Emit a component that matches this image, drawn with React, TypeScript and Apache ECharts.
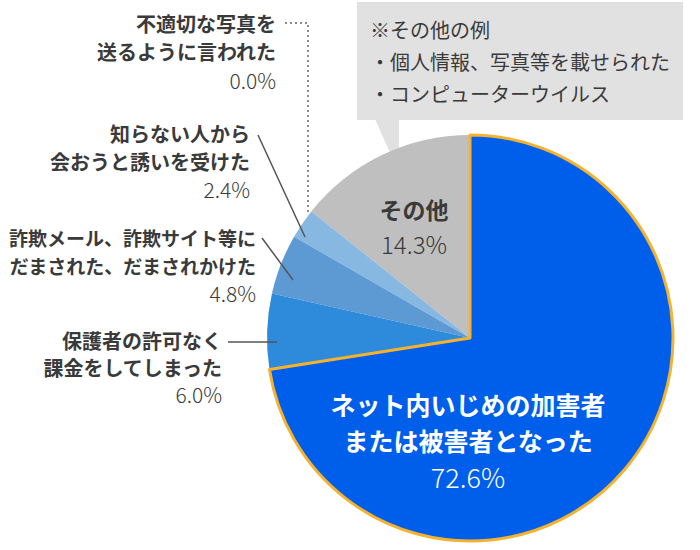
import React, { useEffect, useRef } from "react";
import * as echarts from "echarts";

// Data (drawn counter-clockwise from 12 o'clock so the bordered slice is drawn last)
const categories = [
  "その他",
  "不適切な写真を送るように言われた",
  "知らない人から会おうと誘いを受けた",
  "詐欺メール、詐欺サイト等にだまされた、だまされかけた",
  "保護者の許可なく課金をしてしまった",
  "ネット内いじめの加害者または被害者となった",
];
const values = [14.3, 0.0, 2.4, 4.8, 6.0, 72.6];
const colors = ["#BFBFBF", "#A9CBEA", "#86B8E1", "#5D9AD4", "#2E8ADB", "#005FEA"];
const borderColor = "#F5B22E";

const noteLines = ["※その他の例", "・個人情報、写真等を載せられた", "・コンピューターウイルス"];

const FONT = '"Noto Sans CJK JP", "Noto Sans", sans-serif';
const TXT = "#3A3A3A";

function txt(text: string, x: number, y: number, size: number, weight: string | number, align: string, fill = TXT) {
  return {
    type: "text",
    x,
    y,
    z: 10,
    style: {
      text,
      fontSize: size,
      fontWeight: weight,
      fontFamily: FONT,
      fill,
      align,
      verticalAlign: "middle",
      lineHeight: size,
    },
  };
}

function seg(x1: number, y1: number, x2: number, y2: number) {
  return {
    type: "line",
    z: 10,
    shape: { x1, y1, x2, y2 },
    style: { stroke: "#555555", lineWidth: 1.5 },
  };
}

export default function App() {
  const ref = useRef<HTMLDivElement>(null);
  useEffect(() => {
    document.body.style.margin = "0";
    if (!ref.current) return;
    const chart = echarts.init(ref.current, undefined, { renderer: "svg" });
    const LS = 20;
    const PS = 21;
    const graphic: any[] = [
      // callout box
      {
        type: "rect",
        z: 1,
        shape: { x: 357, y: 2, width: 326, height: 118 },
        style: { fill: "#E1E1E1" },
      },
      {
        type: "polygon",
        z: 1,
        shape: { points: [[375, 119], [399, 119], [399, 173]] },
        style: { fill: "#E1E1E1" },
      },
      txt(noteLines[0], 370, 29, 20, "normal", "left"),
      txt(noteLines[1], 370, 61, 20, "normal", "left"),
      txt(noteLines[2], 370, 93, 20, "normal", "left"),
      // 0.0%
      txt("不適切な写真を", 276, 23, LS, "bold", "right"),
      txt("送るように言われた", 276, 51, LS, "bold", "right"),
      txt("0.0%", 276, 80, PS, 300, "right"),
      {
        type: "polyline",
        z: 10,
        shape: { points: [[285, 23], [308, 23], [308, 214]] },
        style: { stroke: "#666666", lineWidth: 1.5, lineDash: [2, 3], fill: "none" },
      },
      // 2.4%
      txt("知らない人から", 250, 133, LS, "bold", "right"),
      txt("会おうと誘いを受けた", 250, 161, LS, "bold", "right"),
      txt("2.4%", 250, 189, PS, 300, "right"),
      seg(258, 135, 305, 237),
      // 4.8%
      txt("詐欺メール、詐欺サイト等に", 256, 237, 19, "bold", "right"),
      txt("だまされた、だまされかけた", 256, 265, 19, "bold", "right"),
      txt("4.8%", 256, 293, PS, 300, "right"),
      seg(262, 238, 293, 280),
      // 6.0%
      txt("保護者の許可なく", 222, 340, LS, "bold", "right"),
      txt("課金をしてしまった", 222, 367, LS, "bold", "right"),
      txt("6.0%", 222, 394, PS, 300, "right"),
      seg(228, 342, 277, 342),
      // inside labels
      txt("その他", 414, 209, 23, "bold", "center"),
      txt("14.3%", 414, 243, 24, 300, "center"),
      txt("ネット内いじめの加害者", 468, 404, 25, "bold", "center", "#FFFFFF"),
      txt("または被害者となった", 468, 440, 25, "bold", "center", "#FFFFFF"),
      txt("72.6%", 468, 476, 27, 300, "center", "#FFFFFF"),
    ];
    chart.setOption({
      animation: false,
      backgroundColor: "#FFFFFF",
      series: [
        {
          type: "pie",
          center: [470, 338],
          radius: [0, 203],
          startAngle: 90,
          clockwise: false,
          minAngle: 0,
          avoidLabelOverlap: false,
          label: { show: false },
          labelLine: { show: false },
          emphasis: { disabled: true },
          data: categories.map((name, i) => ({
            name,
            value: values[i],
            itemStyle: {
              color: colors[i],
              borderColor: i === 5 ? borderColor : colors[i],
              borderWidth: i === 5 ? 3 : 0,
            },
          })),
        },
      ],
      graphic,
    });
    return () => chart.dispose();
  }, []);
  return <div ref={ref} style={{ position: "absolute", left: 0, top: 0, width: 700, height: 550 }} />;
}
